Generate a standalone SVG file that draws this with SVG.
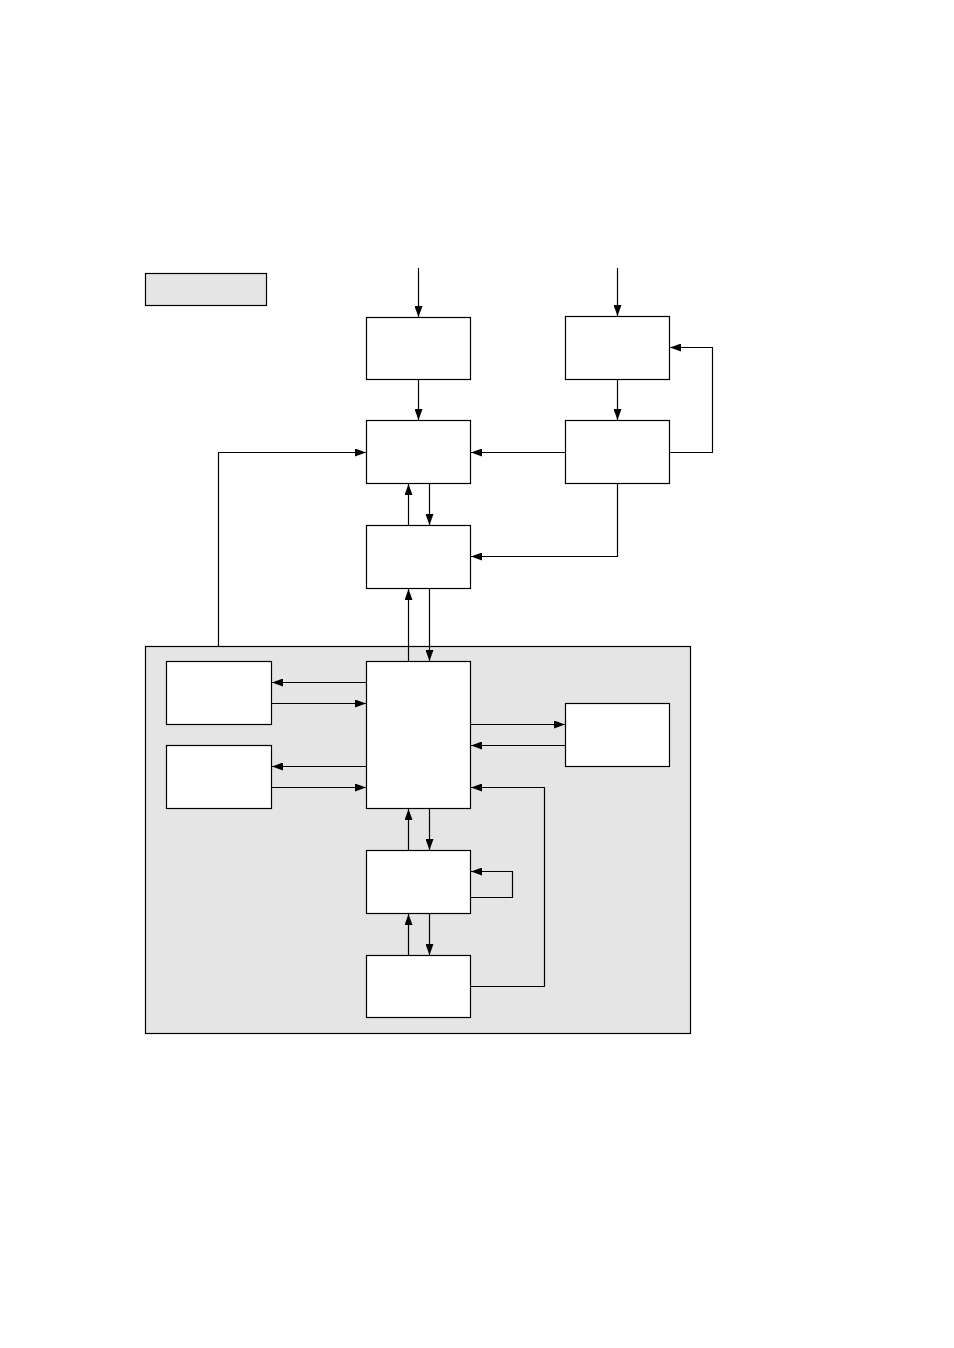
<svg xmlns="http://www.w3.org/2000/svg" width="954" height="1348" viewBox="0 0 954 1348">
<defs>
<style>
.box{fill:#fff;stroke:#000;stroke-width:1.2}
.grey{fill:#e5e5e5;stroke:#000;stroke-width:1.2}
.c{fill:none;stroke:#000;stroke-width:1.2;marker-end:url(#ah)}
.n{fill:none;stroke:#000;stroke-width:1.2}
</style>
<marker id="ah" markerUnits="userSpaceOnUse" markerWidth="12" markerHeight="8" refX="11" refY="4" orient="auto">
<path d="M0,0 L11,4 L0,8 z" fill="#000"/>
</marker>
</defs>
<rect fill="#fff" width="954" height="1348"/>
<g id="legend"><rect class="grey" x="145.5" y="273.5" width="121" height="32"/></g>
<g id="container"><rect class="grey" x="145.5" y="646.5" width="545" height="387"/></g>
<g id="nodeA"><rect class="box" x="366.5" y="317.5" width="104" height="62"/></g>
<g id="nodeB"><rect class="box" x="565.5" y="316.5" width="104" height="63"/></g>
<g id="nodeC"><rect class="box" x="366.5" y="420.5" width="104" height="63"/></g>
<g id="nodeD"><rect class="box" x="565.5" y="420.5" width="104" height="63"/></g>
<g id="nodeE"><rect class="box" x="366.5" y="525.5" width="104" height="63"/></g>
<g id="nodeF"><rect class="box" x="366.5" y="661.5" width="104" height="147"/></g>
<g id="nodeG1"><rect class="box" x="166.5" y="661.5" width="105" height="63"/></g>
<g id="nodeG2"><rect class="box" x="166.5" y="745.5" width="105" height="63"/></g>
<g id="nodeH"><rect class="box" x="565.5" y="703.5" width="104" height="63"/></g>
<g id="nodeI"><rect class="box" x="366.5" y="850.5" width="104" height="63"/></g>
<g id="nodeJ"><rect class="box" x="366.5" y="955.5" width="104" height="62"/></g>
<g id="connectors">
<path class="c" d="M418.5,268 V317"/>
<path class="c" d="M617.5,268 V316"/>
<path class="c" d="M418.5,379 V420"/>
<path class="c" d="M617.5,379 V420"/>
<path class="c" d="M669.5,452.5 H712.5 V347.5 H670"/>
<path class="c" d="M565.5,452.5 H471"/>
<path class="c" d="M617.5,483 V556.5 H471"/>
<path class="c" d="M218.5,646 V452.5 H366"/>
<path class="c" d="M408.5,525 V484"/>
<path class="c" d="M429.5,483 V525"/>
<path class="c" d="M408.5,661 V589"/>
<path class="c" d="M429.5,588 V661"/>
<path class="c" d="M366.5,682.5 H272"/>
<path class="c" d="M271.5,703.5 H366"/>
<path class="c" d="M366.5,766.5 H272"/>
<path class="c" d="M271.5,787.5 H366"/>
<path class="c" d="M470.5,724.5 H565"/>
<path class="c" d="M565.5,745.5 H471"/>
<path class="c" d="M470.5,986.5 H544.5 V787.5 H471"/>
<path class="c" d="M408.5,850 V809"/>
<path class="c" d="M429.5,808 V850"/>
<path class="c" d="M470.5,897.5 H512.5 V871.5 H471"/>
<path class="c" d="M408.5,955 V914"/>
<path class="c" d="M429.5,913 V955"/>
</g>
</svg>
